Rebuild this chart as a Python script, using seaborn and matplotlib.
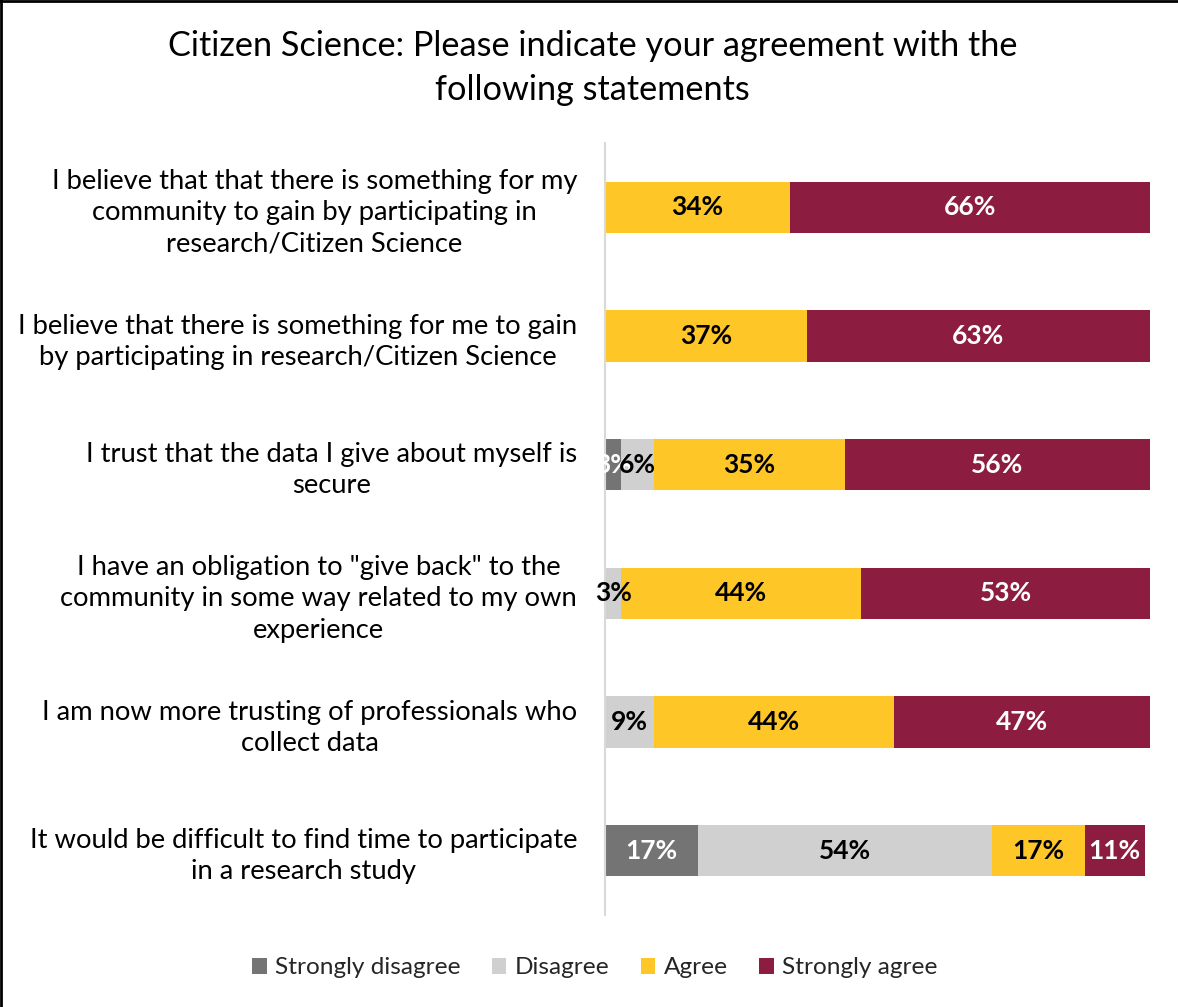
import matplotlib
matplotlib.use("Agg")
import matplotlib.pyplot as plt
from matplotlib.patches import Patch
from matplotlib.lines import Line2D
import numpy as np
import pandas as pd
import seaborn as sns

statements = [
    "I believe that that there is something for my\ncommunity to gain by participating in\nresearch/Citizen Science",
    "I believe that there is something for me to gain\nby participating in research/Citizen Science",
    "I trust that the data I give about myself is\nsecure",
    "I have an obligation to \"give back\" to the\ncommunity in some way related to my own\nexperience",
    "I am now more trusting of professionals who\ncollect data",
    "It would be difficult to find time to participate\nin a research study",
]
levels = ["Strongly disagree", "Disagree", "Agree", "Strongly agree"]
strongly_disagree = [0, 0, 3, 0, 0, 17]
disagree = [0, 0, 6, 3, 9, 54]
agree = [34, 37, 35, 44, 44, 17]
strongly_agree = [66, 63, 56, 53, 47, 11]
colors = ["#747474", "#D0D0D0", "#FFC627", "#8C1D40"]
label_colors = ["white", "black", "black", "white"]

df = pd.DataFrame({
    "statement": statements,
    "Strongly disagree": strongly_disagree,
    "Disagree": disagree,
    "Agree": agree,
    "Strongly agree": strongly_agree,
})

sns.set_theme(style="white")
FONT = ["Lato", "DejaVu Sans"]
plt.rcParams["font.family"] = FONT

fig = plt.figure(figsize=(11.78, 10.07), dpi=100)
ax = fig.add_axes([605 / 1178, 1 - 915 / 1007, 545 / 1178, 772 / 1007])

values = df[levels].to_numpy(dtype=float)
cum = values.cumsum(axis=1)

# Stacked bars: draw cumulative totals from the outermost segment inward
for j in range(len(levels) - 1, -1, -1):
    sns.barplot(x=cum[:, j], y=df["statement"], orient="h", color=colors[j],
                saturation=1, width=0.4, ax=ax, linewidth=0)

# Segment value labels
for i in range(len(statements)):
    for j in range(len(levels)):
        v = values[i, j]
        if v <= 0:
            continue
        center = cum[i, j] - v / 2
        ax.text(center, i, f"{int(v)}%", ha="center", va="center",
                color=label_colors[j], fontsize=19, fontweight="bold")

ax.set_xlim(0, 100)
ax.set_ylim(len(statements) - 0.5, -0.5)
ax.set_xlabel("")
ax.set_ylabel("")
ax.set_xticks([])
for s in ["top", "right", "bottom"]:
    ax.spines[s].set_visible(False)
ax.spines["left"].set_color("#D9D9D9")
ax.spines["left"].set_linewidth(1.5)
ax.tick_params(axis="y", length=0, pad=20, labelsize=19.7)
for lab in ax.get_yticklabels():
    lab.set_multialignment("center")
    lab.set_linespacing(1.31)
    lab.set_color("black")

fig.text(0.503, 1 - 68 / 1007, "Citizen Science: Please indicate your agreement with the\nfollowing statements",
         ha="center", va="center", fontsize=24.7, linespacing=1.47, color="black")

handles = [Patch(facecolor=c, edgecolor="none", label=l) for c, l in zip(colors, levels)]
fig.legend(handles=handles, loc="center", bbox_to_anchor=(0.505, 1 - 968 / 1007), ncol=4,
           frameon=False, fontsize=17.6, handlelength=0.6, handleheight=0.6,
           handletextpad=0.35, columnspacing=1.27)

# Frame edges on the left and top of the figure
fig.add_artist(Line2D([0.001, 0.001], [0, 1], transform=fig.transFigure, color="black", lw=2))
fig.add_artist(Line2D([0, 1], [0.999, 0.999], transform=fig.transFigure, color="black", lw=2))

fig.savefig("out.png", dpi=100, facecolor="white")
